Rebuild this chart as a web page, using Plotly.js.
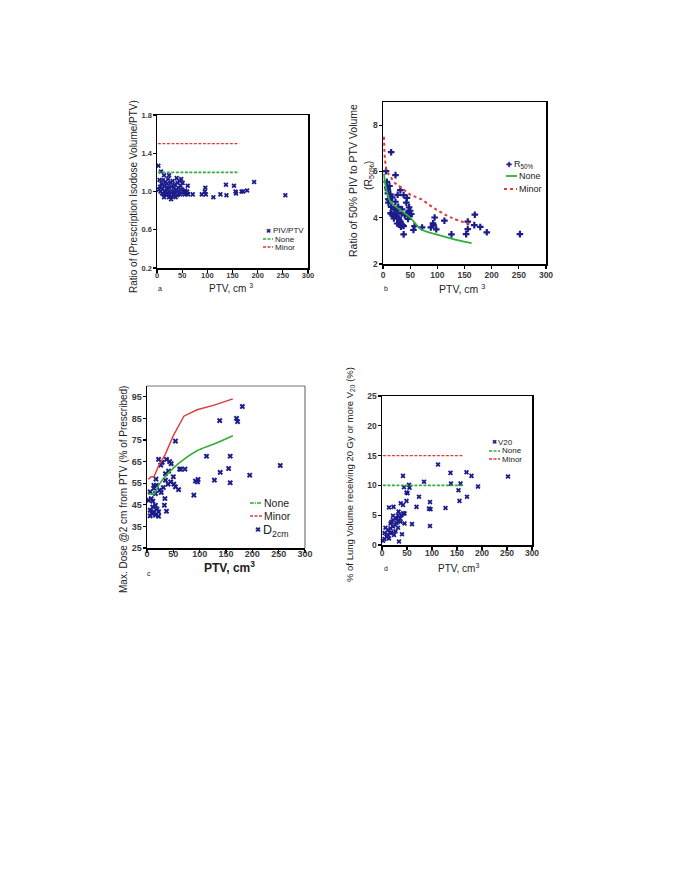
<!DOCTYPE html>
<html><head><meta charset="utf-8">
<script src="https://cdn.plot.ly/plotly-3.0.1.min.js"></script>
<style>body{margin:0;padding:0;background:#fff}#chart{width:680px;height:880px}</style>
</head><body><div id="chart"></div>
<script>
// RTOG reference PTV volumes (cm3) and deviation limits
const refPTV = [1.8, 3.8, 7.4, 13.2, 22.0, 34.0, 50.0, 70.0, 95.0, 126.0, 163.0];
const pivNone = [1.2, 1.2, 1.2, 1.2, 1.2, 1.2, 1.2, 1.2, 1.2, 1.2, 1.2];
const pivMinor = [1.5, 1.5, 1.5, 1.5, 1.5, 1.5, 1.5, 1.5, 1.5, 1.5, 1.5];
const r50None = [5.9, 5.5, 5.1, 4.7, 4.5, 4.3, 4.0, 3.5, 3.3, 3.1, 2.9];
const r50Minor = [7.5, 6.5, 6.0, 5.8, 5.5, 5.3, 5.0, 4.8, 4.4, 4.0, 3.7];
const d2None = [50, 50, 50, 50, 54, 58, 62, 66, 70, 73, 77];
const d2Minor = [57, 57, 58, 58, 63, 68, 77, 86, 89, 91, 94];
const v20None = [10, 10, 10, 10, 10, 10, 10, 10, 10, 10, 10];
const v20Minor = [15, 15, 15, 15, 15, 15, 15, 15, 15, 15, 15];

// Panel a: PIV/PTV
const aPTV = [2.7, 8, 14, 24, 39, 48, 51, 61, 137, 153, 193, 96, 95, 71, 89, 97, 112, 126, 138, 156, 157, 168, 171, 179, 255, 28,
  5, 6, 7, 9, 10, 11, 12, 13, 15, 16, 17, 18, 19, 20, 21, 22, 23, 25, 26, 27, 29, 30, 31, 32, 33, 34, 35, 36, 38, 40, 41, 42, 44, 45, 46, 47, 50, 53, 55, 56, 58, 60, 62, 4, 14, 24, 37];
const aRatio = [1.27, 1.21, 1.17, 1.17, 1.14, 1.13, 1.09, 1.06, 1.07, 1.06, 1.10, 1.04, 1.00, 0.97, 0.97, 0.97, 0.94, 0.97, 0.96, 1.00, 0.98, 1.00, 1.00, 1.01, 0.96, 0.92,
  1.12, 1.05, 1.00, 1.08, 0.98, 1.03, 1.12, 0.97, 1.06, 1.00, 1.10, 0.96, 1.03, 1.08, 0.99, 1.13, 1.04, 0.97, 1.00, 1.09, 1.05, 0.95, 1.11, 1.00, 0.97, 1.04, 1.07, 0.98, 1.01, 0.96, 1.09, 1.04, 1.00, 1.11, 0.97, 1.06, 1.02, 0.99, 0.97, 1.01, 0.98, 1.00, 0.97, 1.02, 0.94, 0.94, 0.94];

// Panel b: R50%
const bPTV = [15, 5.5, 23, 7, 12, 9, 32, 38, 27, 9, 13.5, 17, 12, 10, 23, 44, 43, 15, 21, 28, 35, 48, 16, 23, 26, 29, 20, 49, 52, 47, 32, 36, 38, 33, 38, 58, 56, 72, 88, 93, 95, 92, 98, 113, 126, 156, 153, 156, 169, 168, 179, 191, 252,
  8, 10, 14, 18, 20, 25, 30, 34, 40, 44, 46, 50, 26, 30];
const bR50 = [6.83, 6.01, 5.84, 5.55, 5.37, 5.19, 5.19, 4.98, 4.99, 5.05, 5.01, 4.88, 4.76, 4.65, 4.69, 4.86, 4.65, 4.47, 4.36, 4.47, 4.36, 4.45, 4.16, 4.07, 4.19, 4.00, 3.97, 4.07, 4.16, 4.26, 3.83, 3.68, 3.64, 3.61, 3.28, 3.64, 3.47, 3.58, 3.58, 3.68, 4.01, 3.76, 3.50, 3.87, 3.28, 3.83, 3.29, 3.51, 4.13, 3.68, 3.60, 3.37, 3.29,
  5.3, 4.8, 4.2, 4.1, 4.45, 4.3, 3.9, 4.2, 4.1, 4.2, 3.95, 4.3, 3.75, 3.7];

// Panel c: D2cm
const cPTV = [181, 138, 170, 172, 54, 113, 158, 22, 37, 29, 26, 43, 46, 64, 72, 62, 155, 139, 253, 195, 128, 92, 97, 96, 158, 89, 35, 50, 45, 51, 54, 60, 35, 40, 31, 18, 13, 6, 16, 24, 27, 34, 8, 11, 3, 33, 37, 19, 16, 6, 13, 9, 22, 6, 22, 16, 11, 17, 13, 41];
const cD2cm = [90.5, 84, 85, 83.5, 74.5, 67.5, 67.5, 66, 66, 64.6, 63.4, 65, 64, 61.5, 61.5, 61.5, 61.8, 60, 63.2, 58.7, 56.4, 56, 56.7, 55.6, 55.2, 49.5, 59.4, 58, 55.6, 54.6, 53.3, 52, 56.4, 54.6, 53, 54, 52.6, 51, 50.2, 51.8, 50.7, 47.9, 47.9, 46.7, 47.1, 44.8, 42, 43, 44.8, 42.5, 41.7, 41, 41.7, 39.9, 39.7, 40.2, 44, 56.9, 54, 60.6];

// Panel d: V20
const dPTV = [112, 137, 169, 179, 252, 42, 84, 138, 157, 192, 44, 54, 55, 51, 49, 74, 153, 170, 155, 49, 96, 69, 37.5, 42, 94, 97, 127, 14, 23, 45, 60, 96, 33, 32, 29, 22, 19, 45, 40, 34,
  5, 9, 12, 16, 5, 12, 7, 17, 22, 26, 29, 32, 36, 37, 39, 42, 27, 19, 24, 14, 32, 17, 22, 2];
const dV20 = [13.5, 12.1, 12.2, 11.6, 11.5, 11.6, 10.6, 10.3, 10.3, 9.8, 9.7, 10.1, 9.6, 8.7, 8.8, 8.1, 9.2, 8.1, 7.4, 7.4, 7.2, 6.4, 7.0, 6.7, 6.1, 6.0, 6.2, 6.3, 6.4, 5.3, 3.5, 3.2, 5.6, 5.0, 4.5, 4.9, 3.9, 3.6, 1.8, 0.6,
  1.0, 1.4, 1.7, 2.0, 2.0, 2.5, 2.9, 2.8, 3.1, 3.4, 3.7, 4.0, 4.5, 3.9, 5.0, 5.3, 2.3, 2.1, 1.7, 1.1, 2.9, 3.6, 4.2, 0.7];

const BLUE = '#1c1c8c', GREEN = '#2fae3a', RED = '#e03a3a';
const W = 680, H = 880;
const px = v => v / W, py = v => 1 - v / H;

const traces = [
  {x: aPTV, y: aRatio, xaxis: 'x', yaxis: 'y', mode: 'markers', cliponaxis: false, marker: {symbol: 'x', size: 4.5, color: BLUE}},
  {x: refPTV, y: pivNone, xaxis: 'x', yaxis: 'y', mode: 'lines', line: {color: GREEN, width: 1.6, dash: '3px,1.5px'}},
  {x: refPTV, y: pivMinor, xaxis: 'x', yaxis: 'y', mode: 'lines', line: {color: RED, width: 1.3, dash: '3px,1.5px'}},

  {x: bPTV, y: bR50, xaxis: 'x2', yaxis: 'y2', mode: 'markers', cliponaxis: false, marker: {symbol: 'cross', size: 5.5, color: BLUE}},
  {x: refPTV, y: r50None, xaxis: 'x2', yaxis: 'y2', mode: 'lines', line: {color: GREEN, width: 1.8, shape: 'spline'}},
  {x: refPTV, y: r50Minor, xaxis: 'x2', yaxis: 'y2', mode: 'lines', line: {color: RED, width: 2, dash: 'dot', shape: 'spline'}},

  {x: cPTV, y: cD2cm, xaxis: 'x3', yaxis: 'y3', mode: 'markers', cliponaxis: false, marker: {symbol: 'x', size: 5, color: BLUE}},
  {x: refPTV, y: d2None, xaxis: 'x3', yaxis: 'y3', mode: 'lines', line: {color: GREEN, width: 1.6, shape: 'spline'}},
  {x: refPTV, y: d2Minor, xaxis: 'x3', yaxis: 'y3', mode: 'lines', line: {color: RED, width: 1.4}},

  {x: dPTV, y: dV20, xaxis: 'x4', yaxis: 'y4', mode: 'markers', cliponaxis: false, marker: {symbol: 'x', size: 4.5, color: BLUE}},
  {x: refPTV, y: v20None, xaxis: 'x4', yaxis: 'y4', mode: 'lines', line: {color: GREEN, width: 1.6, dash: '3px,1.5px'}},
  {x: refPTV, y: v20Minor, xaxis: 'x4', yaxis: 'y4', mode: 'lines', line: {color: RED, width: 1.3, dash: '3px,1.5px'}}
];

const F = 'Liberation Sans, Arial, sans-serif';
function ax(extra, fs, mirror, standoff) {
  return Object.assign({
    showline: true, linecolor: 'black', linewidth: 1.5, mirror: mirror,
    ticks: 'outside', ticklen: 3, tickwidth: 1.2, tickcolor: 'black',
    showgrid: false, zeroline: false, fixedrange: true, ticklabelstandoff: standoff,
    tickfont: {family: F, size: fs, color: '#3a3a3a', weight: 'bold'}
  }, extra);
}

const xt = [0, 50, 100, 150, 200, 250, 300];
const layout = {
  width: W, height: H, margin: {l: 0, r: 0, t: 0, b: 0},
  paper_bgcolor: 'white', plot_bgcolor: 'white', showlegend: false,
  font: {family: F, color: '#222'},
  xaxis: ax({domain: [px(157), px(308)], range: [0, 300], tickvals: xt, anchor: 'y'}, 7.5, true, -4),
  yaxis: ax({domain: [py(268), py(115)], range: [0.2, 1.8], tickvals: [0.2, 0.6, 1.0, 1.4, 1.8], tickformat: '.1f', anchor: 'x'}, 7.5, true, -1),
  xaxis2: ax({domain: [px(383), px(546)], range: [0, 300], tickvals: xt, anchor: 'y2'}, 8.5, true, -1),
  yaxis2: ax({domain: [py(264), py(102)], range: [2, 9], tickvals: [2, 4, 6, 8], anchor: 'x2'}, 8.5, true, -1),
  xaxis3: ax({domain: [px(147), px(305)], range: [0, 300], tickvals: xt, anchor: 'y3'}, 9, false, -6),
  yaxis3: ax({domain: [py(548), py(386)], range: [25, 100], tickvals: [25, 35, 45, 55, 65, 75, 85, 95], anchor: 'x3'}, 9, false, -1),
  xaxis4: ax({domain: [px(382), px(532)], range: [0, 300], tickvals: xt, anchor: 'y4'}, 8.5, true, -4),
  yaxis4: ax({domain: [py(545), py(396)], range: [0, 25], tickvals: [0, 5, 10, 15, 20, 25], anchor: 'x4'}, 8.5, true, -1),
  shapes: [
    {type: 'line', xref: 'x3 domain', yref: 'y3 domain', x0: 0, x1: 1, y0: 1, y1: 1, line: {color: '#777', width: 1.2}},
    {type: 'line', xref: 'x3 domain', yref: 'y3 domain', x0: 1, x1: 1, y0: 0, y1: 1, line: {color: '#777', width: 1.2}}
  ],
  annotations: []
};

function ann(x, y, text, size, opts) {
  layout.annotations.push(Object.assign({
    xref: 'paper', yref: 'paper', x: px(x), y: py(y), text: text, showarrow: false,
    xanchor: 'center', yanchor: 'middle', borderpad: 0, font: {family: F, size: size, color: '#222'}
  }, opts || {}));
}
function key(x0, x1, y, color, dash, width) {
  layout.shapes.push({type: 'line', xref: 'paper', yref: 'paper', x0: px(x0), x1: px(x1), y0: py(y), y1: py(y),
    line: {color: color, width: width, dash: dash}});
}
// axis titles
ann(133, 197, 'Ratio of (Prescription Isodose Volume/PTV)', 10, {textangle: -90});
ann(231, 288, 'PTV, cm <sup>3</sup>', 10);
ann(157, 289, 'a', 7, {xanchor: 'left'});

ann(353, 181, 'Ratio of 50% PIV to PTV Volume', 10.5, {textangle: -90});
ann(369, 176, '(R<sub>50%</sub>)', 10.5, {textangle: -90});
ann(462, 288, 'PTV, cm <sup>3</sup>', 10.5);
ann(383, 289, 'b', 7, {xanchor: 'left'});

ann(124, 490, 'Max. Dose @2 cm from PTV (% of Prescribed)', 10, {textangle: -90});
ann(229, 567, '<b>PTV, cm<sup>3</sup></b>', 12);
ann(146, 573, 'c', 7, {xanchor: 'left'});

ann(350, 474, '% of Lung Volume receiving 20 Gy or more V<sub>20</sub> (%)', 9.5, {textangle: -90});
ann(458, 568, 'PTV, cm<sup>3</sup>', 10);
ann(383, 568, 'd', 7, {xanchor: 'left'});

// legends (panel a)
ann(268, 231, '<b>✖</b>', 6, {font: {family: F, size: 6, color: BLUE}});
ann(272, 231, 'PIV/PTV', 8, {xanchor: 'left'});
key(263, 273, 239, GREEN, '3px,1.5px', 1.6);
ann(274, 239, 'None', 8, {xanchor: 'left'});
key(263, 273, 247, RED, '3px,1.5px', 1.3);
ann(274, 247, 'Minor', 8, {xanchor: 'left'});
// panel b
ann(509, 164, '<b>✚</b>', 7, {font: {family: F, size: 7, color: BLUE}});
ann(513, 164, 'R<sub>50%</sub>', 9, {xanchor: 'left'});
key(506, 517, 176, GREEN, 'solid', 1.8);
ann(517.5, 176, 'None', 9, {xanchor: 'left'});
key(504, 517, 189, RED, 'dot', 2);
ann(518, 189, 'Minor', 9, {xanchor: 'left'});
// panel c
key(250, 262, 503, GREEN, '4px,1px,1px,1px', 1.6);
ann(262.5, 503, 'None', 10.5, {xanchor: 'left'});
key(250, 262, 516, RED, '3px,1.5px', 1.4);
ann(263, 516, 'Minor', 10.5, {xanchor: 'left'});
ann(258, 529, '<b>✖</b>', 7, {font: {family: F, size: 7, color: BLUE}});
ann(262, 531, 'D<sub>2cm</sub>', 12.5, {xanchor: 'left'});
// panel d
ann(494, 442, '<b>✖</b>', 6, {font: {family: F, size: 6, color: BLUE}});
ann(497, 442, 'V20', 8, {xanchor: 'left'});
key(489, 500, 451, GREEN, '3px,1.5px', 1.6);
ann(500.5, 451, 'None', 8, {xanchor: 'left'});
key(489, 500, 459, RED, '3px,1.5px', 1.3);
ann(500.5, 459, 'Minor', 8, {xanchor: 'left'});

Plotly.newPlot('chart', traces, layout, {displayModeBar: false, staticPlot: true});
</script>
</body></html>
